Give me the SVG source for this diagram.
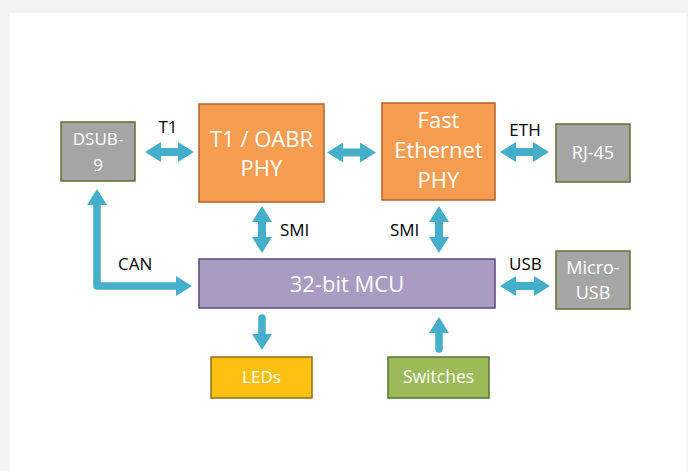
<svg xmlns="http://www.w3.org/2000/svg" width="688" height="471" viewBox="0 0 688 471">
  <style>
    .box text { font-family: "Open Sans", "Noto Sans", sans-serif; fill: #ffffff; text-anchor: middle; }
    .lbl { font-family: "Open Sans", "Noto Sans", sans-serif; font-size: 17px; fill: #000000; }
    .grey { fill: #a5a5a5; stroke: #5e7131; stroke-width: 1.5; }
    .orange { fill: #f79d52; stroke: #b4602b; stroke-width: 1.5; }
    .purple { fill: #a99bc2; stroke: #5c4a7b; stroke-width: 1.5; }
    .yellow { fill: #fec010; stroke: #8c6c22; stroke-width: 1.5; }
    .green { fill: #9bbb59; stroke: #5a7332; stroke-width: 1.5; }
    .wire { fill: none; stroke: #45afcb; stroke-width: 8; }
    .wire.thin { stroke-width: 7.5; stroke-linecap: round; stroke-linejoin: round; }
  </style>
  <defs>
    <marker id="head" markerUnits="userSpaceOnUse" markerWidth="16" markerHeight="20" viewBox="0 0 16 20" refX="0" refY="10" orient="auto-start-reverse">
      <path d="M0,0 L16,10 L0,20 z" fill="#45afcb"/>
    </marker>
  </defs>

  <!-- page -->
  <rect x="0" y="0" width="688" height="471" fill="#f3f3f3"/>
  <rect x="10" y="13" width="676" height="458" fill="#ffffff"/>

  <!-- connectors -->
  <g id="connectors">
    <path class="wire" d="M161,152 H178" marker-start="url(#head)" marker-end="url(#head)"/>
    <path class="wire" d="M343,152.5 H360" marker-start="url(#head)" marker-end="url(#head)"/>
    <path class="wire" d="M516,152 H533" marker-start="url(#head)" marker-end="url(#head)"/>
    <path class="wire" d="M516,286 H534" marker-start="url(#head)" marker-end="url(#head)"/>
    <path class="wire" d="M262,222 V237" marker-start="url(#head)" marker-end="url(#head)"/>
    <path class="wire" d="M439,222 V237" marker-start="url(#head)" marker-end="url(#head)"/>
    <path class="wire thin" d="M262,318 V334" marker-end="url(#head)"/>
    <path class="wire thin" d="M439,349 V333" marker-end="url(#head)"/>
    <path class="wire thin" d="M97,205 V286 H176" marker-start="url(#head)" marker-end="url(#head)"/>
    <text class="lbl" x="168" y="133" text-anchor="middle">T1</text>
    <text class="lbl" x="525" y="136" text-anchor="middle">ETH</text>
    <text class="lbl" x="280" y="236">SMI</text>
    <text class="lbl" x="390" y="236">SMI</text>
    <text class="lbl" x="118" y="270">CAN</text>
    <text class="lbl" x="509" y="270">USB</text>
  </g>

  <!-- nodes -->
  <g id="dsub9" class="box">
    <rect class="grey" x="61" y="122" width="74" height="59"/>
    <text x="98" y="145" font-size="17">DSUB-</text>
    <text x="98" y="171" font-size="17">9</text>
  </g>
  <g id="t1phy" class="box">
    <rect class="orange" x="199" y="104" width="125" height="98"/>
    <text x="261.5" y="147" font-size="22">T1 / OABR</text>
    <text x="261.5" y="176" font-size="22">PHY</text>
  </g>
  <g id="ethphy" class="box">
    <rect class="orange" x="382" y="103" width="113" height="97"/>
    <text x="438.5" y="128" font-size="22">Fast</text>
    <text x="438.5" y="158" font-size="22">Ethernet</text>
    <text x="438.5" y="188" font-size="22">PHY</text>
  </g>
  <g id="rj45" class="box">
    <rect class="grey" x="556" y="124" width="74" height="58"/>
    <text x="593" y="159" font-size="18">RJ-45</text>
  </g>
  <g id="mcu" class="box">
    <rect class="purple" x="199" y="259" width="296" height="49"/>
    <text x="347" y="292" font-size="22">32-bit MCU</text>
  </g>
  <g id="microusb" class="box">
    <rect class="grey" x="556" y="251" width="74" height="58"/>
    <text x="593" y="274" font-size="18">Micro-</text>
    <text x="593" y="299" font-size="18">USB</text>
  </g>
  <g id="leds" class="box">
    <rect class="yellow" x="211" y="357" width="101" height="41"/>
    <text x="261.5" y="383" font-size="17">LEDs</text>
  </g>
  <g id="switches" class="box">
    <rect class="green" x="388" y="357" width="101" height="41"/>
    <text x="438.5" y="383" font-size="17.5">Switches</text>
  </g>
</svg>
